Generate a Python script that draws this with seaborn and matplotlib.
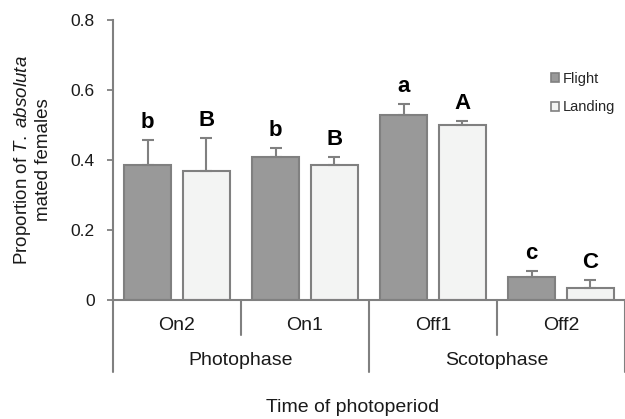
import matplotlib
matplotlib.use("Agg")
import matplotlib.pyplot as plt
import matplotlib.transforms as mtransforms
from matplotlib.lines import Line2D
from matplotlib.patches import Patch
import seaborn as sns
import pandas as pd
import numpy as np

# ---- data ----
times = ["On2", "On1", "Off1", "Off2"]
phases = ["Photophase", "Scotophase"]
types = ["Flight", "Landing"]
flight_mean = [0.386, 0.409, 0.529, 0.065]
flight_err = [0.071, 0.025, 0.030, 0.019]
landing_mean = [0.369, 0.386, 0.500, 0.035]
landing_err = [0.094, 0.023, 0.012, 0.021]
flight_letters = ["b", "b", "a", "c"]
landing_letters = ["B", "B", "A", "C"]

sns.set_theme(style="white")
plt.rcParams["font.family"] = ["Liberation Sans", "DejaVu Sans"]
plt.rcParams["mathtext.fontset"] = "custom"
plt.rcParams["mathtext.rm"] = "Liberation Sans"
plt.rcParams["mathtext.it"] = "Liberation Sans:italic"

df = pd.DataFrame({
    "Time": times * 2,
    "Type": [types[0]] * 4 + [types[1]] * 4,
    "Value": flight_mean + landing_mean,
})

W, H = 625, 419
fig = plt.figure(figsize=(W / 100, H / 100), dpi=100)
ax = fig.add_axes([113 / W, 1 - 300 / H, (625 - 113) / W, 280 / H])

gray = "#808080"
txt = "#1a1a1a"
palette = {"Flight": "#999999", "Landing": "#f3f4f3"}
sns.barplot(data=df, x="Time", y="Value", hue="Type", order=times,
            hue_order=types, palette=palette, width=0.92, gap=0.2,
            edgecolor=gray, linewidth=1.5, saturation=1, legend=False, ax=ax)

# error bars & letters
bars = ax.patches
errs = flight_err + landing_err
letters = flight_letters + landing_letters
means = flight_mean + landing_mean
for p, m, e, lt in zip(bars, means, errs, letters):
    cx = p.get_x() + p.get_width() / 2
    ax.errorbar(cx, m, yerr=[[0], [e]], fmt="none", ecolor=gray,
                elinewidth=1.5, capsize=4, capthick=1.5, zorder=1)
    ax.annotate(lt, (cx, m + e), xytext=(0, 5), textcoords="offset points",
                ha="center", va="bottom", fontsize=16, fontweight="bold",
                color="black")

ax.set_xlim(-0.5, 3.5)
ax.set_ylim(0, 0.8)
ax.set_yticks([0, 0.2, 0.4, 0.6, 0.8])
ax.set_yticklabels(["0", "0.2", "0.4", "0.6", "0.8"], fontsize=12.5, color=txt)
ax.tick_params(axis="y", which="both", left=True, length=4, width=1.3,
               color=gray, pad=9)
ax.set_xticks([])
ax.set_xlabel("")
ax.set_ylabel("")
fig.text(32 / W, 1 - 160 / H, "Proportion of $\\it{T.\\ absoluta}$\nmated females",
         rotation=90, ha="center", va="center", multialignment="center",
         fontsize=13.5, color=txt, linespacing=1.2)
for s in ["top", "right"]:
    ax.spines[s].set_visible(False)
for s in ["left", "bottom"]:
    ax.spines[s].set_color(gray)
    ax.spines[s].set_linewidth(1.5)

# category axis
trans = mtransforms.blended_transform_factory(ax.transData, ax.transAxes)
ph = 280.0
for xb in [0.5, 2.5]:
    ax.add_line(Line2D([xb, xb], [0, -35 / ph], transform=trans, color=gray,
                       lw=1.5, clip_on=False))
for xb in [-0.5, 1.5, 3.5]:
    ax.add_line(Line2D([xb, xb], [0, -72 / ph], transform=trans, color=gray,
                       lw=1.5, clip_on=False))
for i, t in enumerate(times):
    ax.text(i, -25 / ph, t, transform=trans, ha="center", va="center",
            fontsize=14, color=txt)
for j, pname in enumerate(phases):
    ax.text(0.5 + 2 * j, -60 / ph, pname, transform=trans, ha="center",
            va="center", fontsize=14, color=txt)
fig.text(353 / W, 1 - 407 / H, "Time of photoperiod", ha="center",
         va="center", fontsize=14, color=txt)

# legend
handles = [Patch(facecolor=palette[t], edgecolor=gray, linewidth=1.2, label=t)
           for t in types]
ax.legend(handles=handles, loc="upper left", bbox_to_anchor=(545 / W, 1 - 66 / H),
          bbox_transform=fig.transFigure, frameon=False, fontsize=10.5,
          handlelength=0.55, handleheight=0.55, handletextpad=0.3,
          labelspacing=1.0, borderaxespad=0)

fig.savefig("out.png", dpi=100)
